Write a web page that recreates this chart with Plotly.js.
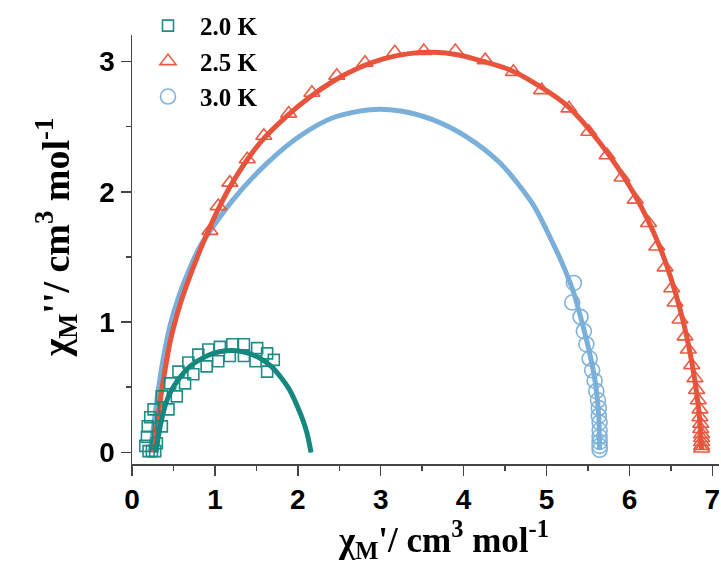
<!DOCTYPE html>
<html>
<head>
<meta charset="utf-8">
<script src="https://cdn.plot.ly/plotly-3.0.1.min.js"></script>
<style>html,body{margin:0;padding:0;background:#fff;}#chart{width:721px;height:563px;}</style>
</head>
<body>
<div id="chart"></div>
<script>
// ---- Data ----
const seriesNames = ["2.0 K", "2.5 K", "3.0 K"];

// 2.0 K data (squares)
const t20_x = [0.16,0.18,0.19,0.22,0.26,0.30,0.36,0.36,0.44,0.46,0.54,0.56,0.64,0.68,0.74,0.80,0.90,0.92,1.04,1.06,1.18,1.21,1.35,1.35,1.49,1.51,1.63,1.63,1.71,0.20,0.24,0.28];
const t20_y = [0.05,0.12,0.20,0.27,0.33,0.07,0.20,0.43,0.33,0.53,0.43,0.62,0.53,0.69,0.60,0.75,0.66,0.79,0.70,0.81,0.74,0.83,0.74,0.83,0.70,0.80,0.62,0.76,0.71,0.01,0.01,0.01];
// 2.0 K fit line
const f20_x = [0.29,0.32,0.36,0.41,0.47,0.56,0.70,0.84,0.98,1.13,1.27,1.41,1.55,1.68,1.79,1.90,1.99,2.06,2.11,2.16];
const f20_y = [0.00,0.13,0.26,0.38,0.47,0.56,0.66,0.72,0.76,0.78,0.78,0.76,0.72,0.66,0.58,0.48,0.36,0.25,0.15,0.00];

// 2.5 K data (triangles)
const t25_x = [0.94,1.04,1.18,1.39,1.59,1.89,2.17,2.47,2.81,3.17,3.52,3.90,4.26,4.60,4.94,5.27,5.51,5.73,5.91,6.07,6.23,6.33,6.43,6.51,6.55,6.61,6.67,6.71,6.75,6.79,6.81,6.83,6.85,6.85,6.86,6.86,6.87,6.87,6.87,6.87,6.87];
const t25_y = [1.70,1.89,2.07,2.25,2.43,2.60,2.76,2.89,2.99,3.07,3.08,3.08,3.01,2.92,2.78,2.64,2.46,2.28,2.11,1.94,1.76,1.58,1.42,1.26,1.15,1.02,0.89,0.79,0.67,0.57,0.48,0.40,0.33,0.27,0.22,0.18,0.14,0.11,0.08,0.05,0.03];
// 2.5 K fit line
const f25_x = [0.26,0.29,0.33,0.39,0.46,0.54,0.64,0.82,1.02,1.22,1.55,1.83,2.13,2.43,2.73,3.03,3.34,3.64,3.94,4.24,4.54,4.84,5.25,5.65,6.05,6.37,6.61,6.75,6.83,6.87];
const f25_y = [0.00,0.15,0.35,0.60,0.85,1.05,1.25,1.55,1.84,2.08,2.38,2.56,2.72,2.85,2.95,3.02,3.06,3.07,3.05,3.00,2.94,2.84,2.66,2.37,1.99,1.57,1.10,0.70,0.36,0.02];

// 3.0 K data (circles)
const t30_x = [5.33,5.31,5.41,5.45,5.48,5.52,5.55,5.58,5.60,5.62,5.63,5.63,5.64,5.64,5.64,5.64,5.64,5.64];
const t30_y = [1.30,1.15,1.04,0.93,0.83,0.72,0.63,0.55,0.47,0.40,0.34,0.28,0.23,0.17,0.12,0.08,0.05,0.02];
// 3.0 K fit line
const f30_x = [0.22,0.25,0.29,0.34,0.40,0.47,0.55,0.65,0.82,1.22,1.63,2.03,2.43,2.87,3.24,3.64,4.04,4.44,4.84,5.08,5.21,5.33,5.41,5.51,5.59,5.63,5.64];
const f30_y = [0.00,0.15,0.35,0.58,0.80,1.00,1.17,1.34,1.58,1.94,2.22,2.43,2.57,2.63,2.62,2.55,2.42,2.22,1.90,1.60,1.42,1.22,1.04,0.79,0.53,0.28,0.02];

const xTicks = [0,1,2,3,4,5,6,7];
const yTicks = [0,1,2,3];

// ---- Styles ----
const cTeal = "#14877f", cRed = "#e8533b", cBlue = "#7aafd9";
const serif = "Liberation Serif, Times New Roman, serif";
const sans = "Liberation Sans, Arial, sans-serif";

const traces = [
  {x:t30_x, y:t30_y, mode:"markers", name:seriesNames[2], legendrank:3,
   marker:{symbol:"circle-open", size:15, color:cBlue, line:{width:1.6, color:cBlue}}, opacity:0.95},
  {x:f30_x, y:f30_y, mode:"lines", showlegend:false, line:{color:cBlue, width:5, shape:"spline", smoothing:0.8}},
  {x:t25_x, y:t25_y, mode:"markers", name:seriesNames[1], legendrank:2,
   marker:{symbol:"triangle-up-open", size:14, color:cRed, line:{width:1.6, color:cRed}}, opacity:0.95},
  {x:f25_x, y:f25_y, mode:"lines", showlegend:false, line:{color:cRed, width:5, shape:"spline", smoothing:0.8}},
  {x:t20_x, y:t20_y, mode:"markers", name:seriesNames[0], legendrank:1,
   marker:{symbol:"square-open", size:11, color:cTeal, line:{width:1.6, color:cTeal}}, opacity:0.95},
  {x:f20_x, y:f20_y, mode:"lines", showlegend:false, line:{color:cTeal, width:5, shape:"spline", smoothing:0.8}}
];

const axisCommon = {
  showgrid:false, zeroline:false, showline:true, linecolor:"#444", linewidth:1.5,
  ticks:"outside", ticklen:10, tickwidth:1.5, tickcolor:"#444",
  tickfont:{family:sans, size:28, color:"#000", weight:"bold"},
  minor:{dtick:0.5, ticks:"outside", ticklen:5, tickwidth:1.5, tickcolor:"#444"}
};

const layout = {
  width:721, height:563,
  margin:{l:132, r:2, t:35, b:99},
  paper_bgcolor:"#fff", plot_bgcolor:"#fff",
  showlegend:true,
  legend:{x:0.0068, y:1.075, xanchor:"left", yanchor:"top", bgcolor:"rgba(0,0,0,0)", itemwidth:54,
          font:{family:serif, size:25, color:"#000", weight:"bold"}, traceorder:"normal"},
  xaxis:Object.assign({}, axisCommon, {range:[0,7.08], tickvals:xTicks, ticktext:xTicks.map(String)}),
  yaxis:Object.assign({}, axisCommon, {range:[-0.089,3.203], tickvals:yTicks, ticktext:yTicks.map(String)}),
  annotations:[
    {xref:"paper", yref:"paper", x:0.5315, y:-0.2308, xanchor:"center", yanchor:"bottom", showarrow:false, yshift:-3,
     text:"χ<sub>M</sub>'/ cm<sup>3</sup> mol<sup>-1</sup>", font:{family:serif, size:35, color:"#000", weight:"bold"}},
    {xref:"paper", yref:"paper", x:-0.129, y:0.529, xanchor:"center", yanchor:"middle", showarrow:false, textangle:-90,
     text:"χ<sub>M</sub>''/ cm<sup>3</sup> mol<sup>-1</sup>", font:{family:serif, size:38, color:"#000", weight:"bold"}}
  ]
};

Plotly.newPlot("chart", traces, layout, {staticPlot:true, displayModeBar:false});
</script>
</body>
</html>
